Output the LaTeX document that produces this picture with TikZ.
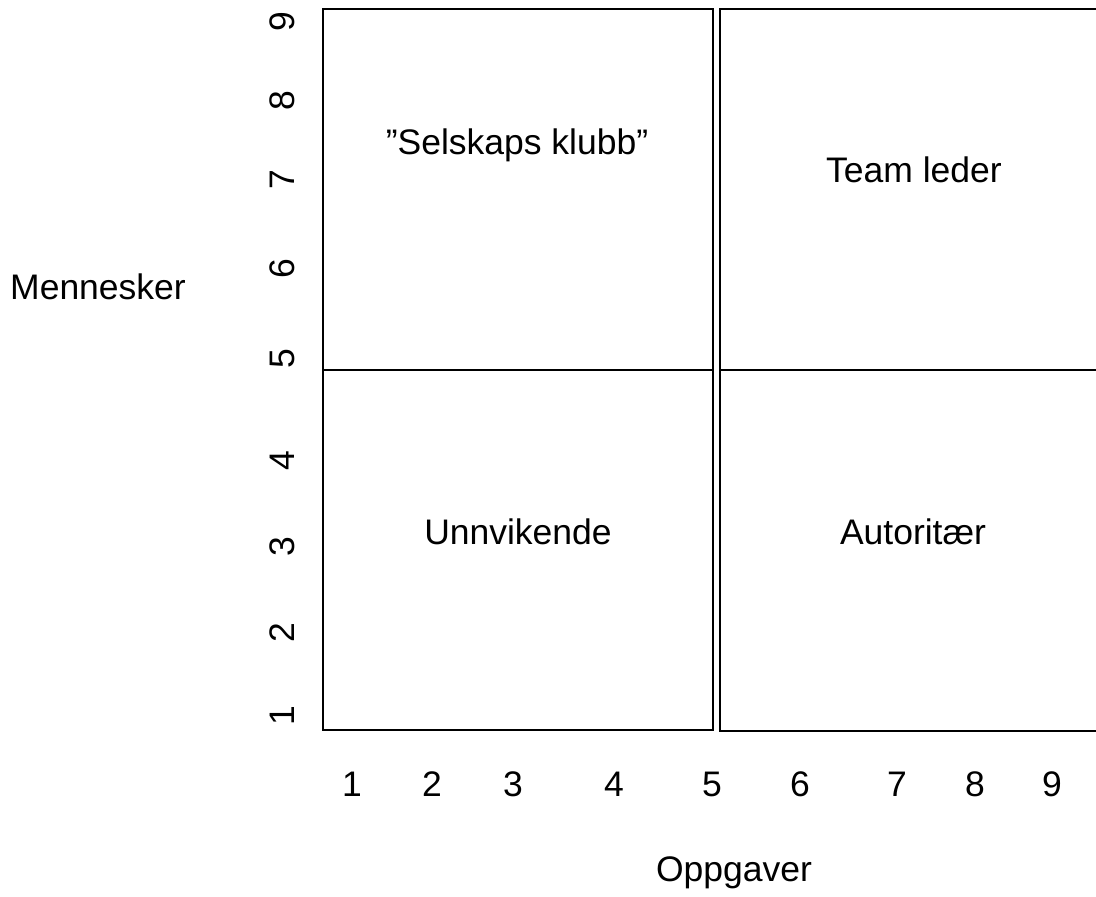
\documentclass[tikz,border=0pt]{standalone}
\usepackage{fontspec}
\setmainfont{Liberation Sans}
\usepackage{tikz}
\usetikzlibrary{
    positioning
}

\begin{document}
\begin{tikzpicture}[
x=1pt, y=-1pt,
frame/.style={
draw,
line width=2.7pt
},
lbl/.style={
inner sep=0pt,
font=\fontsize{35.5}{42}\selectfont
},
ytick/.style={
lbl,
rotate=90
}
]

\useasboundingbox (0,0) rectangle (1096,897);

% quadrants
\draw[frame] (323,9) rectangle (713,730);
\draw[frame] (323,370) -- (713,370);
\draw[frame] (1096,9) -- (720,9) -- (720,731) -- (1096,731);
\draw[frame] (720,370) -- (1096,370);

\node[lbl] (club) at (517,145) {”Selskaps klubb”};
\node[lbl] (team) at (914,170) {Team leder};
\node[lbl] (avoid) at (518,532) {Unnvikende};
\node[lbl] (auth) at (913,532) {Autoritær};

% axes
\node[lbl] (people) at (98,287) {Mennesker};
\node[lbl] (tasks) at (734,873) {Oppgaver};

\foreach \v/\y in {9/22,8/101,7/180,6/269,5/359,4/461,3/547,2/633,1/716}
  \node[ytick] (y\v) at (282,\y) {\v};

\foreach \v/\x in {1/352,2/432,3/513,4/614,5/712,6/800,7/897,8/975,9/1052}
  \node[lbl] (x\v) at (\x,784) {\v};

\end{tikzpicture}
\end{document}
